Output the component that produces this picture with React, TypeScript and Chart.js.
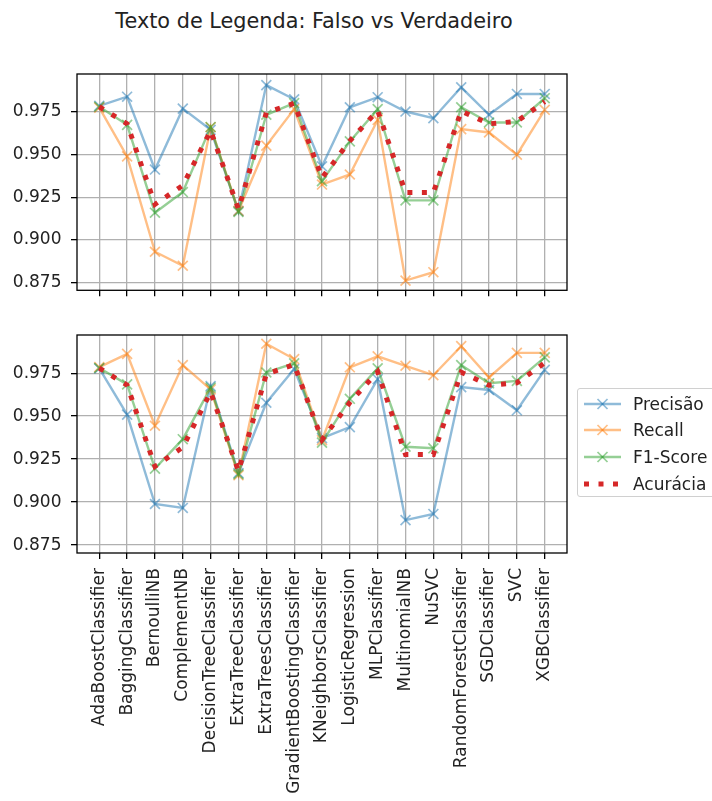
import React, { useEffect, useRef } from 'react';
import { Chart, registerables } from 'chart.js';

Chart.register(...registerables);

const categories = [
  'AdaBoostClassifier', 'BaggingClassifier', 'BernoulliNB', 'ComplementNB',
  'DecisionTreeClassifier', 'ExtraTreeClassifier', 'ExtraTreesClassifier',
  'GradientBoostingClassifier', 'KNeighborsClassifier', 'LogisticRegression',
  'MLPClassifier', 'MultinomialNB', 'NuSVC', 'RandomForestClassifier',
  'SGDClassifier', 'SVC', 'XGBClassifier',
];

// Falso (top panel)
const precisaoFalso = [0.9785, 0.9839, 0.9412, 0.9769, 0.9645, 0.9169, 0.9907, 0.9824, 0.9431, 0.9777, 0.9836, 0.9752, 0.9713, 0.9894, 0.9733, 0.9855, 0.9855];
const recallFalso = [0.9775, 0.9489, 0.8930, 0.8848, 0.9660, 0.9170, 0.9552, 0.9766, 0.9324, 0.9383, 0.9703, 0.8761, 0.8810, 0.9649, 0.9629, 0.9499, 0.9762];
const f1Falso = [0.9780, 0.9674, 0.9159, 0.9280, 0.9661, 0.9163, 0.9733, 0.9801, 0.9344, 0.9577, 0.9766, 0.9231, 0.9231, 0.9777, 0.9688, 0.9688, 0.9830];

// Verdadeiro (bottom panel)
const precisaoVerdadeiro = [0.9778, 0.9509, 0.8989, 0.8966, 0.9675, 0.9169, 0.9578, 0.9774, 0.9372, 0.9436, 0.9715, 0.8895, 0.8931, 0.9669, 0.9652, 0.9534, 0.9769];
const recallVerdadeiro = [0.9785, 0.9862, 0.9444, 0.9797, 0.9656, 0.9156, 0.9921, 0.9832, 0.9360, 0.9784, 0.9848, 0.9793, 0.9738, 0.9907, 0.9725, 0.9868, 0.9868];
const f1Verdadeiro = [0.9780, 0.9685, 0.9195, 0.9366, 0.9666, 0.9162, 0.9754, 0.9807, 0.9346, 0.9601, 0.9778, 0.9322, 0.9313, 0.9797, 0.9691, 0.9705, 0.9842];

// Accuracy (shared)
const acuracia = [0.9780, 0.9680, 0.9208, 0.9319, 0.9640, 0.9180, 0.9745, 0.9800, 0.9363, 0.9580, 0.9758, 0.9277, 0.9277, 0.9755, 0.9680, 0.9694, 0.9810];

const yTickValues = [0.875, 0.9, 0.925, 0.95, 0.975];
const Y_MIN = 0.8704;
const Y_MAX = 0.9972;

const seriesNames = ['Precisão', 'Recall', 'F1-Score', 'Acurácia'];
const seriesColors = ['rgba(31,119,180,0.5)', 'rgba(255,127,14,0.5)', 'rgba(44,160,44,0.5)', '#d62728'];

const FONT_FAMILY = "'DejaVu Sans', sans-serif";
const TEXT_COLOR = '#222';
const TICK_SIZE = 17;
const DOT_WIDTH = 5;
const DOT_DASH = [5, 9.5];

const framePlugin = {
  id: 'axesFrame',
  afterDraw(chart: any) {
    const { ctx, chartArea: a } = chart;
    ctx.save();
    ctx.strokeStyle = '#000';
    ctx.lineWidth = 1.3;
    ctx.strokeRect(a.left, a.top, a.right - a.left, a.bottom - a.top);
    ctx.restore();
  },
};

function toPoints(vals: number[]) {
  return vals.map((v, i) => ({ x: i, y: v }));
}

function markerSeries(label: string, vals: number[], color: string, order: number) {
  return {
    label,
    data: toPoints(vals),
    borderColor: color,
    backgroundColor: color,
    borderWidth: 2.4,
    pointStyle: 'crossRot',
    pointRadius: 7,
    pointHoverRadius: 7,
    pointBorderWidth: 1.7,
    pointBorderColor: color,
    tension: 0,
    fill: false,
    order,
  };
}

function makeConfig(prec: number[], rec: number[], f1: number[], acc: number[], showLabels: boolean, axisH: number, padding: any) {
  return {
    type: 'line',
    data: {
      datasets: [
        markerSeries(seriesNames[0], prec, seriesColors[0], 3),
        markerSeries(seriesNames[1], rec, seriesColors[1], 2),
        markerSeries(seriesNames[2], f1, seriesColors[2], 1),
        {
          label: seriesNames[3],
          data: toPoints(acc),
          borderColor: seriesColors[3],
          backgroundColor: seriesColors[3],
          borderWidth: DOT_WIDTH,
          borderDash: DOT_DASH,
          borderCapStyle: 'butt',
          pointRadius: 0,
          pointHoverRadius: 0,
          tension: 0,
          fill: false,
          order: 0,
        },
      ],
    },
    options: {
      responsive: false,
      animation: false,
      devicePixelRatio: 1,
      events: [],
      layout: { padding },
      plugins: {
        legend: { display: false },
        tooltip: { enabled: false },
        title: { display: false },
      },
      scales: {
        x: {
          type: 'linear',
          min: -0.8,
          max: 16.8,
          afterBuildTicks: (s: any) => {
            s.ticks = categories.map((_, i) => ({ value: i }));
          },
          afterFit: (s: any) => {
            s.height = axisH;
          },
          ticks: {
            autoSkip: false,
            minRotation: showLabels ? 90 : 0,
            maxRotation: showLabels ? 90 : 0,
            padding: 9,
            color: TEXT_COLOR,
            font: { family: FONT_FAMILY, size: TICK_SIZE },
            callback: (v: number) => (showLabels ? categories[Math.round(v)] : ''),
          },
          grid: { color: '#b0b0b0', lineWidth: 1.3, tickLength: 6, tickColor: '#000', drawTicks: true },
          border: { display: false },
        },
        y: {
          type: 'linear',
          min: Y_MIN,
          max: Y_MAX,
          afterBuildTicks: (s: any) => {
            s.ticks = yTickValues.map((v) => ({ value: v }));
          },
          afterFit: (s: any) => {
            s.width = 77;
          },
          ticks: {
            padding: 9.5,
            color: TEXT_COLOR,
            font: { family: FONT_FAMILY, size: TICK_SIZE },
            callback: (v: number) => v.toFixed(3),
          },
          grid: { color: '#b0b0b0', lineWidth: 1.3, tickLength: 6, tickColor: '#000', drawTicks: true },
          border: { display: false },
        },
      },
    },
    plugins: [framePlugin],
  };
}

function LegendSample({ index }: { index: number }) {
  const color = seriesColors[index];
  if (index === 3) {
    return (
      <svg width={40} height={14} style={{ display: 'block' }}>
        <line x1={2} y1={7} x2={40} y2={7} stroke={color} strokeWidth={DOT_WIDTH} strokeDasharray={DOT_DASH.join(' ')} />
      </svg>
    );
  }
  return (
    <svg width={40} height={14} style={{ display: 'block' }}>
      <line x1={2} y1={7} x2={39} y2={7} stroke={color} strokeWidth={2.4} />
      <line x1={15.5} y1={2} x2={25.5} y2={12} stroke={color} strokeWidth={1.7} />
      <line x1={25.5} y1={2} x2={15.5} y2={12} stroke={color} strokeWidth={1.7} />
    </svg>
  );
}

export default function App() {
  const topRef = useRef<HTMLCanvasElement>(null);
  const bottomRef = useRef<HTMLCanvasElement>(null);

  useEffect(() => {
    const top = new Chart(topRef.current as HTMLCanvasElement, makeConfig(
      precisaoFalso, recallFalso, f1Falso, acuracia, false, 14,
      { top: 30, left: 0, right: 33, bottom: 5 },
    ) as any);
    const bottom = new Chart(bottomRef.current as HTMLCanvasElement, makeConfig(
      precisaoVerdadeiro, recallVerdadeiro, f1Verdadeiro, acuracia, true, 248,
      { top: 25, left: 0, right: 33, bottom: 0 },
    ) as any);
    return () => {
      top.destroy();
      bottom.destroy();
    };
  }, []);

  const rowCenters = [15, 41, 68, 95];

  return (
    <div style={{ position: 'absolute', left: 0, top: 0, width: 712, height: 801, overflow: 'hidden', background: '#fff', fontFamily: FONT_FAMILY }}>
      <div style={{ position: 'absolute', left: 0, top: 11, width: 628, textAlign: 'center', fontSize: 20.8, lineHeight: '20.8px', color: TEXT_COLOR, whiteSpace: 'nowrap' }}>
        Texto de Legenda: Falso vs Verdadeiro
      </div>
      <canvas ref={topRef} width={600} height={266} style={{ position: 'absolute', left: 0, top: 44, width: 600, height: 266 }} />
      <canvas ref={bottomRef} width={600} height={491} style={{ position: 'absolute', left: 0, top: 310, width: 600, height: 491 }} />
      <div style={{ position: 'absolute', left: 577, top: 388, width: 140, height: 109, border: '1px solid #d0d0d0', borderRadius: 3, background: 'rgba(255,255,255,0.8)', boxSizing: 'border-box' }}>
        {seriesNames.map((name, i) => (
          <div key={name} style={{ position: 'absolute', left: 0, top: rowCenters[i] - 10, height: 20, width: 140 }}>
            <div style={{ position: 'absolute', left: 4, top: 3 }}>
              <LegendSample index={i} />
            </div>
            <div style={{ position: 'absolute', left: 55, top: 0, fontSize: TICK_SIZE, lineHeight: '20px', color: TEXT_COLOR, whiteSpace: 'nowrap' }}>
              {name}
            </div>
          </div>
        ))}
      </div>
    </div>
  );
}
